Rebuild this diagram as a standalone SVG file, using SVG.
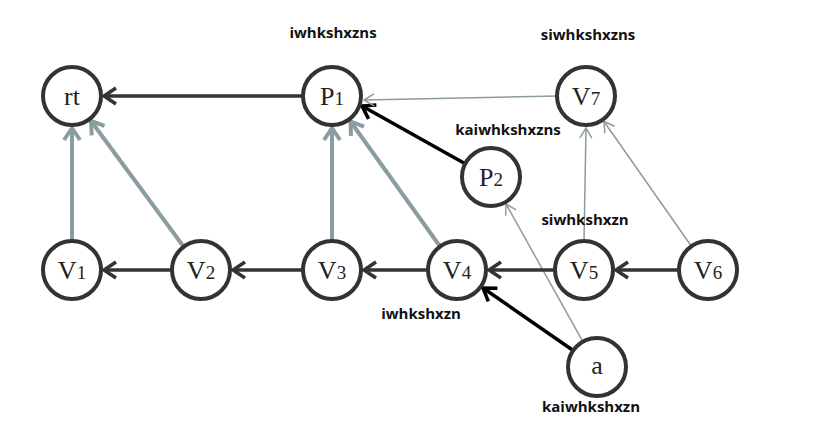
<svg xmlns="http://www.w3.org/2000/svg" width="839" height="439" viewBox="0 0 839 439">
<style>
.node circle{fill:#fff;stroke:#333;stroke-width:4}
.node text{font-family:"Liberation Serif",serif;font-size:26px;fill:#222;text-anchor:middle}
.node tspan{font-size:19px}
.lbl{font-family:"Open Sans","Liberation Sans",sans-serif;font-size:15px;font-weight:bold;fill:#111;text-anchor:middle}
.dark{stroke:#333;stroke-width:3.5;fill:none;marker-end:url(#mDark)}
.blk{stroke:#000;stroke-width:3.5;fill:none;marker-end:url(#mBlk)}
.gthick{stroke:#8b9ca0;stroke-width:4;fill:none;marker-end:url(#mGThick)}
.gthin{stroke:#8b9ca0;stroke-width:1.5;fill:none;marker-end:url(#mGThin)}
</style>
<defs>
<marker id="mDark" markerUnits="userSpaceOnUse" markerWidth="30" markerHeight="30" viewBox="-15 -15 30 30" refX="0" refY="0" orient="auto"><path d="M-12,-8 L0,0 L-12,8" fill="none" stroke="#333" stroke-width="3.5"/></marker>
<marker id="mBlk" markerUnits="userSpaceOnUse" markerWidth="30" markerHeight="30" viewBox="-15 -15 30 30" refX="0" refY="0" orient="auto"><path d="M-12,-8 L0,0 L-12,8" fill="none" stroke="#000" stroke-width="3.5"/></marker>
<marker id="mGThick" markerUnits="userSpaceOnUse" markerWidth="30" markerHeight="30" viewBox="-15 -15 30 30" refX="0" refY="0" orient="auto"><path d="M-12,-8 L0,0 L-12,8" fill="none" stroke="#8b9ca0" stroke-width="4"/></marker>
<marker id="mGThin" markerUnits="userSpaceOnUse" markerWidth="30" markerHeight="30" viewBox="-15 -15 30 30" refX="0" refY="0" orient="auto"><path d="M-10,-6 L0,0 L-10,6" fill="none" stroke="#8b9ca0" stroke-width="1.5"/></marker>
</defs>
<rect width="839" height="439" fill="#fff"/>
<g id="connectors">
<line class="dark" x1="303" y1="96" x2="104" y2="96"/>
<line class="gthick" x1="72" y1="241" x2="72" y2="128"/>
<line class="gthick" x1="183.7" y1="246.7" x2="91" y2="121"/>
<line class="gthick" x1="332" y1="241" x2="332" y2="128"/>
<line class="gthick" x1="440.1" y1="246.5" x2="350.5" y2="121.5"/>
<line class="blk" x1="465.2" y1="163.8" x2="362" y2="106"/>
<line class="gthin" x1="557" y1="96" x2="364" y2="100"/>
<line class="gthin" x1="584" y1="241" x2="586" y2="128"/>
<line class="gthin" x1="691.4" y1="246.3" x2="604" y2="121.5"/>
<line class="gthin" x1="582.9" y1="341.7" x2="506" y2="204"/>
<line class="blk" x1="573.2" y1="350.5" x2="483" y2="288"/>
<line class="dark" x1="172" y1="270" x2="104" y2="270"/>
<line class="dark" x1="303" y1="270" x2="233" y2="270"/>
<line class="dark" x1="428" y1="270" x2="364" y2="270"/>
<line class="dark" x1="555" y1="270" x2="489" y2="270"/>
<line class="dark" x1="679" y1="270" x2="616" y2="270"/>
</g>
<g id="rt" class="node"><circle cx="72" cy="96" r="29"/><text x="72" y="105">rt</text></g>
<g id="P1" class="node"><circle cx="332" cy="96" r="29"/><text x="332" y="105">P<tspan>1</tspan></text></g>
<g id="V7" class="node"><circle cx="586" cy="96" r="29"/><text x="586" y="105">V<tspan>7</tspan></text></g>
<g id="P2" class="node"><circle cx="491" cy="177" r="29"/><text x="491" y="186">P<tspan>2</tspan></text></g>
<g id="V1" class="node"><circle cx="72" cy="270" r="29"/><text x="72" y="279">V<tspan>1</tspan></text></g>
<g id="V2" class="node"><circle cx="201" cy="270" r="29"/><text x="201" y="279">V<tspan>2</tspan></text></g>
<g id="V3" class="node"><circle cx="332" cy="270" r="29"/><text x="332" y="279">V<tspan>3</tspan></text></g>
<g id="V4" class="node"><circle cx="457" cy="270" r="29"/><text x="457" y="279">V<tspan>4</tspan></text></g>
<g id="V5" class="node"><circle cx="584" cy="270" r="29"/><text x="584" y="279">V<tspan>5</tspan></text></g>
<g id="V6" class="node"><circle cx="708" cy="270" r="29"/><text x="708" y="279">V<tspan>6</tspan></text></g>
<g id="a" class="node"><circle cx="597" cy="367" r="29"/><text x="597" y="374">a</text></g>
<g id="labels">
<text class="lbl" x="333" y="38">iwhkshxzns</text>
<text class="lbl" x="588" y="40">siwhkshxzns</text>
<text class="lbl" x="508" y="135">kaiwhkshxzns</text>
<text class="lbl" x="585" y="225">siwhkshxzn</text>
<text class="lbl" x="421" y="319">iwhkshxzn</text>
<text class="lbl" x="591" y="412">kaiwhkshxzn</text>
</g>
</svg>
